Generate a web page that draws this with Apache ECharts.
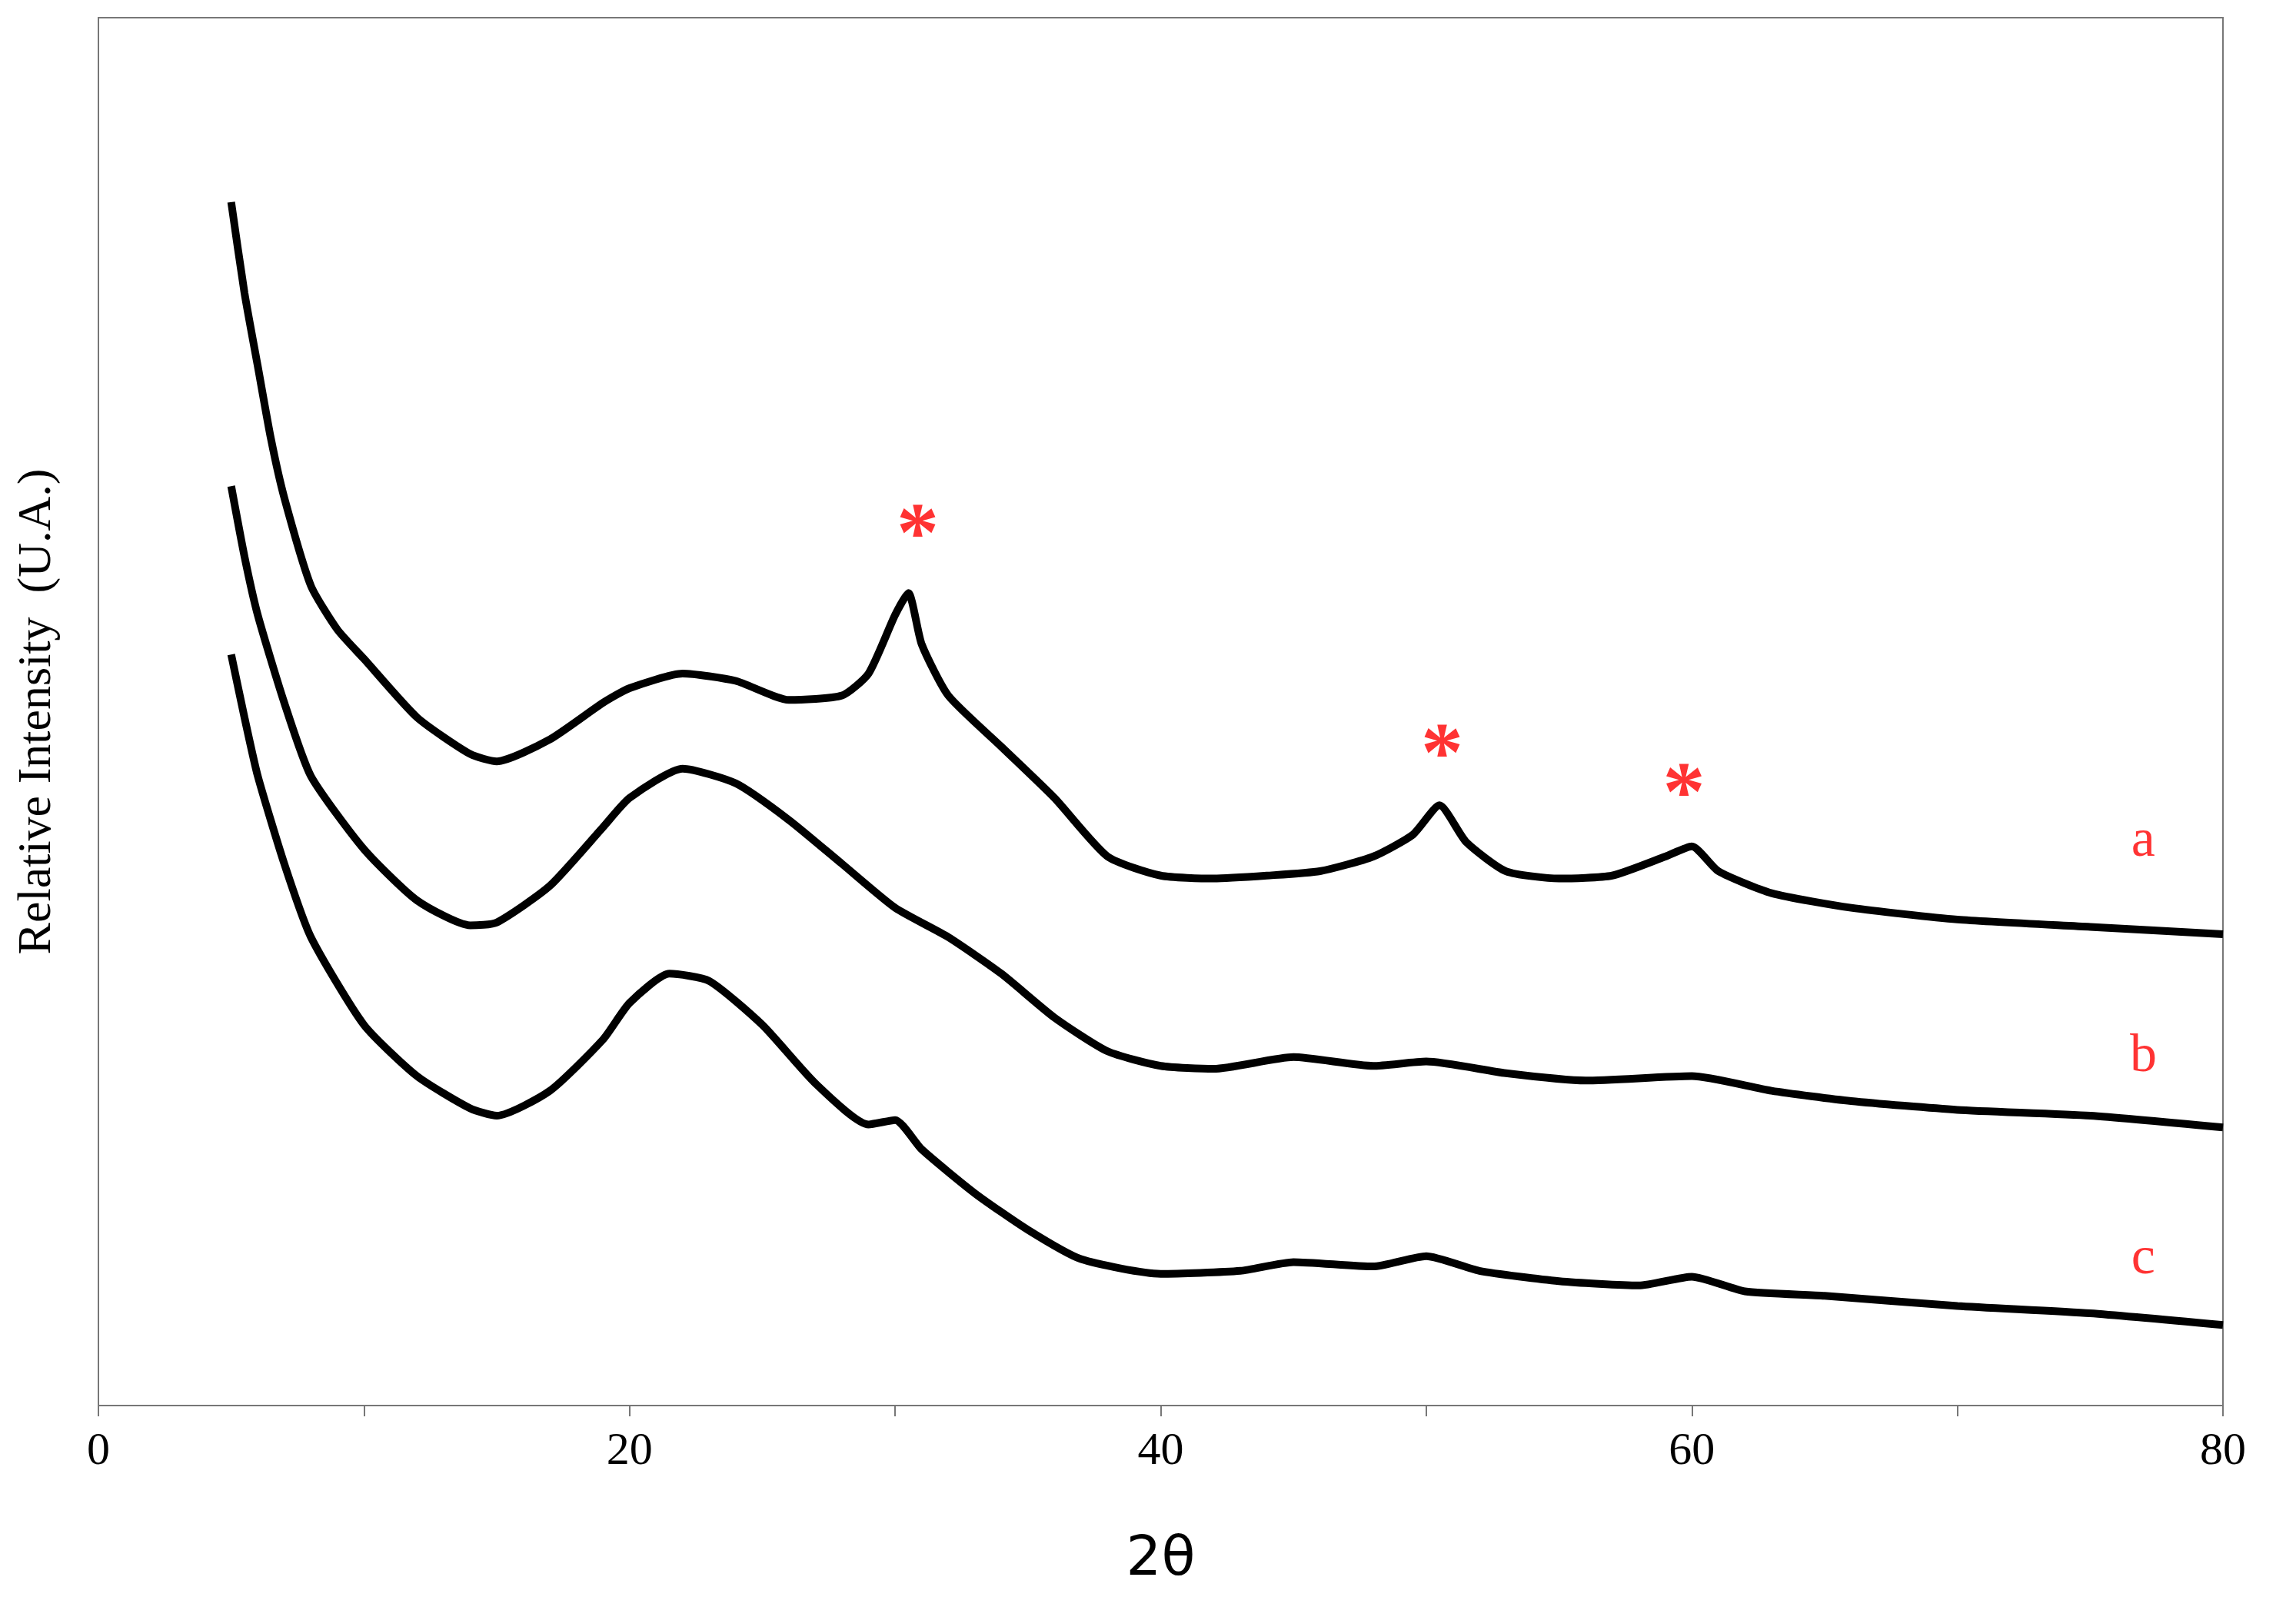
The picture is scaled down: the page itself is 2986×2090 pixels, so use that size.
<!DOCTYPE html>
<html><head><meta charset="utf-8">
<script src="https://cdn.jsdelivr.net/npm/echarts@6/dist/echarts.min.js"></script>
<style>html,body{margin:0;padding:0;background:#fff}#c{width:2986px;height:2090px}</style>
</head><body><div id="c"></div>
<script>
const xTicks=[0,20,40,60,80];
const curveA=[[5,822],[5.5,760],[6,710],[6.5,660],[7,620],[8,560],[9,530],[10,510],[12,470],[14,445],[15,440],[17,455],[19,480],[20,490],[22,500],[24,495],[26,482],[28,485],[29,500],[30,540],[30.5,555],[31,520],[32,485],[34,450],[36,415],[38,375],[40,362],[42,360],[44,362],[46,365],[48,375],[49.5,390],[50.5,410],[51.5,385],[53,365],[55,360],[57,362],[59,375],[60,382],[61,365],[63,350],[66,340],[70,332],[75,327],[80,322]];
const curveB=[[5,628],[5.5,580],[6,540],[7,480],[8,430],[10,380],[12,345],[14,328],[15,330],[17,355],[19,395],[20,415],[22,435],[24,425],[26,400],[28,370],[30,340],[32,320],[34,295],[36,265],[38,242],[40,232],[42,230],[45,238],[48,232],[50,235],[53,227],[56,222],[60,225],[63,215],[66,208],[70,202],[75,198],[80,190]];
const curveC=[[5,513],[5.5,470],[6,430],[7,370],[8,320],[10,260],[12,225],[14,203],[15,198],[17,215],[19,250],[20,275],[21.5,295],[23,290],[25,260],[27,220],[29,192],[30,195],[31,175],[33,145],[35,120],[37,100],[40,90],[43,92],[45,98],[48,95],[50,102],[52,92],[55,85],[58,82],[60,88],[62,78],[65,75],[70,68],[75,63],[80,55]];
const curveLabels=[[77,385,'a'],[77,238,'b'],[77,100,'c']];
const stars=[[30.85,592],[50.6,442],[59.7,415]];
const chart=echarts.init(document.getElementById('c'));
const lineS=d=>({type:'line',data:d,showSymbol:false,smooth:0.2,lineStyle:{color:'#000',width:10},z:3});
chart.setOption({
  animation:false,
  grid:{left:128,right:95,top:23,bottom:262,show:true,borderColor:'#777',borderWidth:2},
  xAxis:{type:'value',min:0,max:80,interval:10,
    axisLine:{lineStyle:{color:'#777',width:2}},
    axisTick:{length:14,lineStyle:{color:'#777',width:2}},
    splitLine:{show:false},
    axisLabel:{fontFamily:'Liberation Serif',fontSize:60,color:'#000',margin:30,
      formatter:v=>xTicks.includes(v)?String(v):''},
    name:'2θ',nameLocation:'middle',nameGap:165,
    nameTextStyle:{fontFamily:'DejaVu Sans',fontSize:72,color:'#000'}},
  yAxis:{type:'value',min:0,max:948,axisLabel:{show:false},axisTick:{show:false},splitLine:{show:false},
    axisLine:{show:true,lineStyle:{color:'#777',width:2}},
    name:'Relative Intensity  (U.A.)',nameLocation:'middle',nameGap:48,
    nameTextStyle:{fontFamily:'Liberation Serif',fontSize:62,color:'#000'}},
  series:[lineS(curveA),lineS(curveB),lineS(curveC),
    {type:'scatter',symbolSize:0,data:curveLabels.map(d=>({value:[d[0],d[1]],name:d[2]})),
      label:{show:true,position:'inside',formatter:p=>p.name,fontFamily:'Liberation Serif',fontSize:70,color:'#f00'}},
    {type:'scatter',symbolSize:0,data:stars,
      label:{show:true,position:'inside',formatter:'*',fontFamily:'Liberation Serif',fontSize:110,fontWeight:'bold',color:'#f00'}}]
});
</script></body></html>
